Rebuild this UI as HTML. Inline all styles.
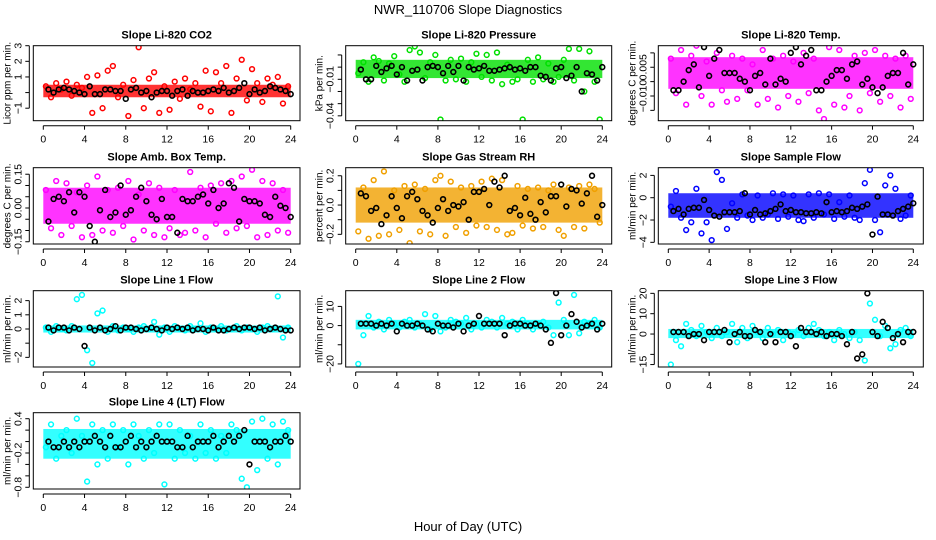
<!DOCTYPE html>
<html><head><meta charset="utf-8"><style>
body{margin:0;background:#fff;}
svg{display:block;font-family:"Liberation Sans",sans-serif;}
</style></head><body>
<svg id="chart" width="936" height="540" viewBox="0 0 936 540" xmlns="http://www.w3.org/2000/svg">
<rect width="936" height="540" fill="#fff"/>
<text x="468" y="14" text-anchor="middle" font-size="13">NWR_110706  Slope Diagnostics</text>
<text x="468" y="531" text-anchor="middle" font-size="13">Hour of Day (UTC)</text>
<g id="panels"></g>
</svg>
<script>
const xTicks = [0,4,8,12,16,20,24];
const xTickLabels = ["0","4","8","12","16","20","24"];
const panelTitles = ["Slope Li-820 CO2","Slope Li-820 Pressure","Slope Li-820 Temp.","Slope Amb. Box Temp.","Slope Gas Stream RH","Slope Sample Flow","Slope Line 1 Flow","Slope Line 2 Flow","Slope Line 3 Flow","Slope Line 4 (LT) Flow"];
const yTitles = ["Licor ppm per min.","kPa per min.","degrees C per min.","degrees C per min.","percent per min.","ml/min per min.","ml/min per min.","ml/min per min.","ml/min per min.","ml/min per min."];
const yRanges = [[-1.8,3.0],[-0.044,0.0176],[-0.0186,0.0075],[-0.16,0.179],[-0.266,0.255],[-4.15,2.69],[-2.68,2.7],[-21.6,18.2],[-16.2,21.3],[-0.83,0.505]];
const yTickValues = [[3,2,1,0,-1],[0.01,0,-0.01,-0.02,-0.03,-0.04],[0.005,0,-0.005,-0.010,-0.015],[0.15,0.10,0.05,0,-0.05,-0.10,-0.15],[0.2,0.1,0,-0.1,-0.2],[2,0,-2,-4],[2,1,0,-1,-2],[10,0,-10,-20],[20,10,0,-10,-15],[0.4,0.2,0,-0.2,-0.4,-0.6,-0.8]];
const yTickLabels = [["3","2","1","","−1"],["","","−0.01","","","−0.04"],["","0.005","","−0.010",""],["0.15","","","0.00","","","−0.15"],["0.2","","0.0","","−0.2"],["2","0","−2","−4"],["2","1","0","","−2"],["10","0","","−20"],["20","10","0","","−15"],["0.4","","","−0.2","","","−0.8"]];
const bandLow  = [-0.3,-0.009,-0.0075,-0.07,-0.12,-1.8,-0.25,-2,-2,-0.3];
const bandHigh = [0.5,0.006,0.0035,0.09,0.12,0.4,0.25,3,2.5,0.22];
const seriesColors = ["#ff0000","#00e000","#ff00ff","#ff00ff","#f0a000","#0000ff","#00ffff","#00ffff","#00ffff","#00ffff"];

const co2Values = [0.4,-0.3,0.6,0.2,0.7,-0.2,0.5,0.3,1.0,-1.3,1.1,-1.0,1.4,1.7,-0.3,0.5,-1.5,0.8,2.9,-1.0,0.9,1.3,-1.3,0.4,-1.1,0.7,-0.4,0.9,0.2,0.6,-0.9,1.4,-1.2,1.3,0.6,1.7,-1.3,0.9,2.1,-0.5,1.5,0.6,-0.6,0.9,0.5,1.0,-0.7,0.4];
const co2Black = [0.2,0.0,0.2,0.3,0.2,0.1,0.0,-0.1,0.4,-0.1,-0.1,0.2,0.2,0.1,0.1,-0.4,0.2,0.3,0.0,0.1,-0.3,0.0,0.1,0.1,-0.2,0.1,0.2,-0.2,0.1,0.0,0.0,0.1,0.2,0.1,0.3,0.0,0.1,0.3,0.6,-0.1,0.2,0.0,0.1,0.4,0.3,0.2,0.1,-0.1];
const pressValues = [-0.005,0.004,-0.012,0.008,0.005,-0.011,0.003,0.009,-0.006,-0.012,0.014,0.017,0.012,-0.009,0.004,0.010,-0.043,-0.011,0.006,-0.010,0.007,-0.012,0.004,0.011,-0.008,0.010,-0.011,0.012,-0.014,0.002,-0.012,-0.010,-0.043,0.006,-0.012,0.008,-0.010,0.003,-0.012,-0.008,0.006,0.015,-0.011,0.015,-0.020,0.013,-0.012,-0.043];
const pressBlack = [-0.002,-0.010,-0.010,0.001,-0.004,-0.001,0.001,-0.006,0.000,-0.011,-0.003,-0.002,-0.011,0.000,0.001,0.000,-0.005,0.001,-0.004,0.001,-0.011,0.000,-0.002,-0.001,0.001,-0.003,-0.003,-0.002,-0.001,0.000,-0.002,-0.001,-0.003,0.000,0.000,-0.007,-0.008,-0.011,-0.001,0.000,-0.009,-0.007,0.000,-0.020,-0.005,-0.006,-0.011,0.000];
const tempValues = [0.003,-0.009,0.006,-0.013,0.004,0.0075,-0.010,0.002,-0.013,0.005,-0.008,-0.012,0.004,-0.011,0.003,-0.008,0.001,-0.013,0.006,-0.011,0.003,-0.014,0.004,-0.010,0.002,-0.012,0.005,-0.009,0.003,-0.015,-0.018,0.007,-0.013,0.006,-0.014,-0.010,0.004,-0.015,0.005,-0.009,0.006,-0.012,0.004,-0.010,0.003,-0.014,0.004,-0.011];
const tempBlack = [-0.008,-0.008,-0.005,-0.001,0.001,-0.007,0.007,-0.003,0.003,0.006,-0.002,-0.002,-0.002,-0.004,-0.005,-0.008,-0.003,-0.002,-0.006,0.003,-0.006,-0.004,-0.005,0.005,0.007,0.001,0.004,0.006,-0.008,-0.008,-0.005,-0.003,-0.001,-0.001,-0.004,0.001,0.002,-0.006,-0.004,-0.007,-0.009,-0.007,-0.003,-0.002,-0.002,0.005,-0.006,0.001];
const ambValues = [0.08,-0.09,0.12,-0.12,0.11,-0.08,0.07,-0.13,0.10,-0.12,0.14,-0.10,0.08,-0.11,0.09,-0.08,0.12,-0.14,0.06,-0.10,0.11,-0.12,0.09,-0.13,-0.09,0.08,-0.12,-0.11,0.16,-0.10,0.09,-0.13,0.10,-0.07,0.11,-0.11,0.12,-0.09,0.14,-0.08,0.17,-0.13,0.12,-0.12,0.11,-0.10,0.08,-0.11];
const ambBlack = [-0.06,0.04,0.05,0.03,0.07,-0.02,0.07,0.05,-0.08,-0.15,-0.01,0.08,-0.04,-0.02,0.10,-0.03,-0.01,0.05,0.09,0.03,-0.03,-0.05,0.04,-0.04,-0.04,-0.11,0.04,0.03,0.03,0.05,0.06,0.02,0.08,0.00,0.02,0.11,0.09,-0.06,0.04,0.03,0.03,0.02,-0.03,-0.04,0.05,0.01,0.00,-0.04];
const rhValues = [-0.18,0.12,-0.23,0.17,-0.21,0.23,-0.20,0.10,-0.17,0.13,-0.26,0.14,-0.18,0.11,-0.20,0.17,0.20,-0.21,0.16,-0.15,0.12,-0.19,0.13,-0.14,0.16,-0.15,0.18,-0.17,0.17,-0.20,-0.19,0.13,-0.14,0.11,-0.16,0.12,-0.15,0.10,0.14,-0.17,-0.21,0.12,-0.15,0.13,-0.16,0.14,0.11,-0.12];
const rhBlack = [0.08,0.06,-0.04,-0.02,-0.13,-0.07,0.06,-0.02,-0.09,0.06,0.09,0.04,-0.04,-0.07,-0.12,-0.02,0.04,-0.04,0.00,-0.01,0.02,-0.10,0.09,0.09,0.11,0.00,0.16,0.12,0.20,-0.04,-0.02,-0.07,0.05,-0.06,-0.10,0.02,-0.05,0.06,0.06,0.14,-0.01,0.11,0.10,0.01,0.08,0.20,-0.08,0.00];
const sampleValues = [-0.8,0.6,-1.8,-2.9,-2.2,0.8,-3.2,-2.2,-3.8,2.3,1.6,-2.8,-0.5,-1.8,0.3,-1.6,-2.0,0.2,-1.8,-1.5,0.4,-1.9,0.3,-1.7,0.2,-2.0,-2.1,0.3,-1.8,0.4,-1.5,0.3,-1.9,-0.4,-1.7,0.2,-1.8,-2.0,1.3,2.5,-2.0,-3.1,1.1,2.0,0.8,-1.9,-1.6,0.2];
const sampleBlack = [-1.2,-1.0,-1.5,-1.0,-0.9,-0.9,-0.2,-1.1,-1.6,-1.7,-1.3,-1.3,-1.3,-1.2,0.4,-1.5,-1.1,-1.5,-1.4,-1.2,-1.0,-0.6,-1.2,-1.1,-1.3,-1.3,-1.4,-1.4,-1.3,-1.4,-0.4,-1.3,-1.2,-1.3,-1.2,-0.9,-1.0,-0.8,-0.6,-3.3,0.1,-1.5,-1.5,-1.6,-1.2,-1.0,-0.8,-0.5];
const line1Values = [0.1,-0.2,0.2,0.0,-0.1,0.2,2.1,2.4,-1.5,-2.4,1.1,1.3,-0.2,0.2,-0.1,0.1,0.0,-0.2,0.1,0.2,0.0,0.5,-0.4,0.1,-0.2,0.2,0.0,-0.1,0.2,0.0,0.4,-0.2,0.1,0.0,0.2,-0.1,0.0,0.2,-0.1,0.1,0.0,-0.2,0.1,0.2,0.0,2.3,-0.6,0.1];
const line1Black = [0.1,-0.1,0.1,0.1,-0.1,0.1,0.0,-1.2,0.1,-0.1,0.1,-0.1,0.0,0.2,-0.1,0.1,0.1,0.0,-0.1,0.0,0.1,0.0,-0.1,0.1,0.0,0.1,0.0,0.1,-0.1,0.0,0.0,-0.1,0.1,-0.1,-0.1,0.0,0.1,0.0,0.1,0.1,0.0,0.1,-0.1,0.0,0.1,0.0,-0.1,-0.1];
const line2Values = [-20,-5,5,-1,2,-2,3,1,-1,2,3,-1,1,6,-2,5,-3,-1,3,2,1,4,-2,1,-1,3,2,-1,4,1,2,-2,3,1,-2,1,2,-1,-5,12,3,-5,16,-4,2,1,3,-1];
const line2Black = [1,1,1,0,1,0,1,-3,1,0,0,1,0,-2,-3,1,0,0,-1,1,-3,0,1,5,1,1,1,1,-5,0,1,1,0,0,1,0,-2,-9,17,-5,0,6,2,-1,0,1,-2,1];
const line3Values = [-15,-3,-6,5,2,-1,4,1,-2,3,-1,1,5,-4,3,-2,4,1,-2,3,0,2,-3,1,0,2,-1,3,5,2,-1,1,-3,2,0,-2,1,-3,-13,15,7,-1,4,-7,-5,2,3,-1];
const line3Black = [1,1,1,-1,0,0,-3,1,1,1,2,-4,0,1,-1,-1,2,1,-4,0,-4,1,1,-1,-6,3,1,1,0,1,-1,0,0,-1,-5,1,-12,-10,20,1,-1,6,3,-2,0,-4,1,1];
const line4Values = [-0.1,0.3,-0.3,0.1,0.2,-0.2,0.4,0.1,-0.7,0.3,-0.4,0.2,-0.3,0.3,-0.1,0.2,-0.4,0.3,0.1,-0.3,0.2,-0.2,0.3,-0.75,0.3,-0.3,0.2,-0.2,0.1,-0.3,0.3,-0.2,0.2,-0.3,0.1,-0.2,0.3,0.2,-0.65,-0.8,0.35,-0.5,0.4,-0.3,0.3,-0.4,0.35,0.2];
const line4Black = [0.0,-0.1,-0.1,0.0,-0.1,0.0,-0.1,0.0,0.0,0.1,0.0,-0.1,0.1,-0.1,-0.1,0.0,0.1,-0.1,0.0,-0.1,0.0,0.1,0.0,0.0,0.0,-0.1,-0.1,0.1,-0.1,0.0,0.0,0.0,0.1,-0.1,0.0,0.1,0.0,0.1,0.2,-0.4,0.0,0.0,0.0,-0.1,0.0,0.0,0.1,0.0];

const colorSeries = [co2Values,pressValues,tempValues,ambValues,rhValues,sampleValues,line1Values,line2Values,line3Values,line4Values];
const blackSeries = [co2Black,pressBlack,tempBlack,ambBlack,rhBlack,sampleBlack,line1Black,line2Black,line3Black,line4Black];

const NS = "http://www.w3.org/2000/svg";
const colX = [{x0:43.3,x24:290.7,l:33.3,r:300},{x0:355.7,x24:602.3,l:345.7,r:611.7},{x0:668.3,x24:913.3,l:658.3,r:923.3}];
const rowY = [{t:45.7,b:120.7},{t:167.7,b:244},{t:290.7,b:367},{t:412.7,b:489}];
const root = document.getElementById('panels');
function mk(tag, attrs, parent){const e=document.createElementNS(NS,tag);for(const k in attrs)e.setAttribute(k,attrs[k]);parent.appendChild(e);return e;}

for(let p=0;p<10;p++){
  const c=colX[p%3], r=rowY[Math.floor(p/3)];
  const [ymin,ymax]=yRanges[p];
  const sx=v=>c.x0+v*(c.x24-c.x0)/24;
  const sy=v=>r.b-(v-ymin)/(ymax-ymin)*(r.b-r.t);
  const g=mk('g',{},root);
  
  
  const clipId='clip'+p;
  const cp=mk('clipPath',{id:clipId},g);
  mk('rect',{x:c.l,y:r.t,width:c.r-c.l,height:r.b-r.t},cp);
  const plot=mk('g',{'clip-path':'url(#'+clipId+')'},g);
  const band=mk('rect',{x:sx(0),y:sy(bandHigh[p]),width:sx(24)-sx(0),height:sy(bandLow[p])-sy(bandHigh[p]),fill:seriesColors[p],opacity:0.8},plot);
  
  
  colorSeries[p].forEach((v,i)=>{
    const pt=mk('circle',{cx:sx(0.25+i*0.5),cy:sy(v),r:2.4,fill:'none',stroke:seriesColors[p],'stroke-width':1.5},plot);
    
    
  });
  blackSeries[p].forEach((v,i)=>{
    const pt=mk('circle',{cx:sx(0.5+i*0.5),cy:sy(v),r:2.4,fill:'none',stroke:'#000','stroke-width':1.6},plot);
    
    
  });
  const box=mk('rect',{x:c.l,y:r.t,width:c.r-c.l,height:r.b-r.t,fill:'none',stroke:'#000','stroke-width':1},g);
  
  
  const t=mk('text',{x:(c.l+c.r)/2,y:r.t-7,'text-anchor':'middle','font-size':11,'font-weight':'bold'},g);
  t.textContent=panelTitles[p];
  
  
  mk('line',{x1:sx(0),x2:sx(24),y1:r.b+5,y2:r.b+5,stroke:'#000'},g);
  xTicks.forEach((v,i)=>{
    mk('line',{x1:sx(v),x2:sx(v),y1:r.b+5,y2:r.b+9,stroke:'#000'},g);
    const tl=mk('text',{x:sx(v),y:r.b+22,'text-anchor':'middle','font-size':10.5},g);
    tl.textContent=xTickLabels[i];
    
    
  });
  const yt=yTickValues[p];
  const ax=c.l-4;
  mk('line',{x1:ax,x2:ax,y1:sy(yt[0]),y2:sy(yt[yt.length-1]),stroke:'#000'},g);
  yt.forEach((v,i)=>{
    mk('line',{x1:ax-4,x2:ax,y1:sy(v),y2:sy(v),stroke:'#000'},g);
    if(yTickLabels[p][i]){
      const yl=mk('text',{x:0,y:0,'text-anchor':'middle','font-size':10.5,transform:'translate('+(ax-8)+','+sy(v)+') rotate(-90)'},g);
      yl.textContent=yTickLabels[p][i];
      
      
    }
  });
  const ya=mk('text',{x:0,y:0,'text-anchor':'middle','font-size':10,transform:'translate('+(c.l-23)+','+((r.t+r.b)/2)+') rotate(-90)'},g);
  ya.textContent=yTitles[p];
  
  
}
</script>
</body></html>
